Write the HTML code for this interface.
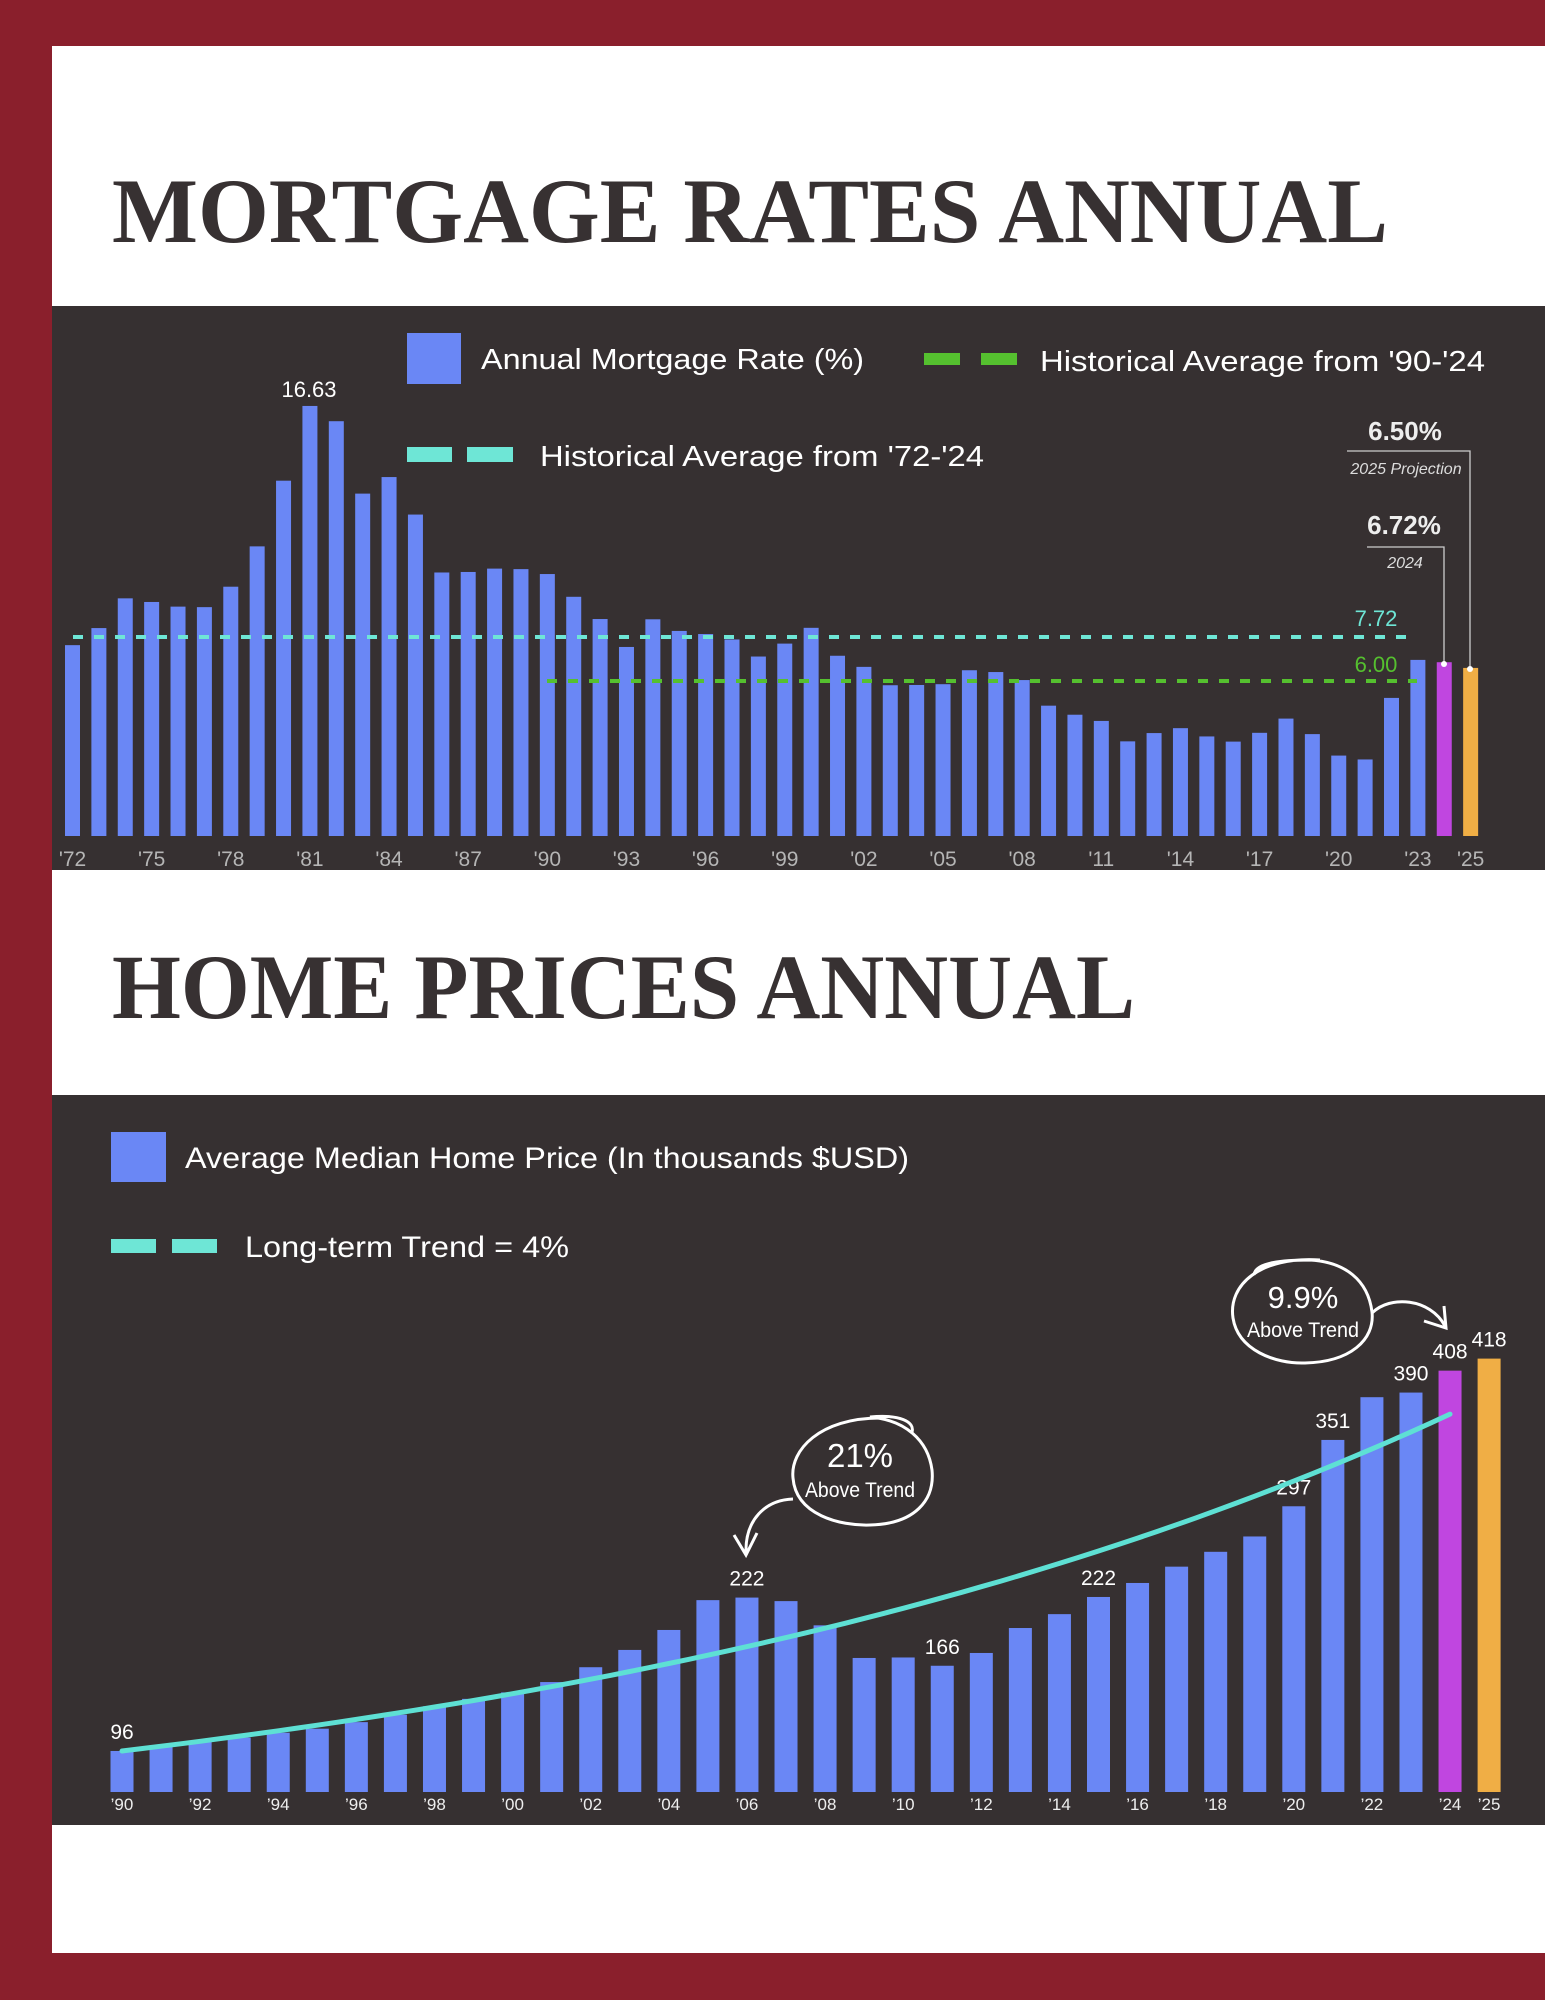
<!DOCTYPE html>
<html><head><meta charset="utf-8">
<style>
html,body{margin:0;padding:0;background:#8a1f2c;}
svg{display:block}
.leg{font-family:"Liberation Sans",sans-serif;fill:#fff;}
.cond{font-family:"Liberation Sans",sans-serif;}
</style></head>
<body>
<svg id="s" width="1545" height="2000" viewBox="0 0 1545 2000" xmlns="http://www.w3.org/2000/svg">
<rect x="0" y="0" width="1545" height="2000" fill="#8a1f2c"/>
<rect x="52" y="46" width="1493" height="1907" fill="#ffffff"/>
<text x="112" y="242" font-family="Liberation Serif,serif" font-weight="bold" font-size="92" fill="#373132" textLength="1276" lengthAdjust="spacingAndGlyphs">MORTGAGE RATES ANNUAL</text>
<text x="112" y="1018" font-family="Liberation Serif,serif" font-weight="bold" font-size="92" fill="#373132" textLength="1023" lengthAdjust="spacingAndGlyphs">HOME PRICES ANNUAL</text>
<rect x="52" y="306" width="1493" height="564" fill="#363031"/>
<rect x="52" y="1095" width="1493" height="730" fill="#363031"/>
<g id="c1"></g>
<g id="c2"></g>
<rect x="407" y="333" width="54" height="51" fill="#6a87f5"/>
<text class="leg" x="481" y="369" font-size="29" textLength="383" lengthAdjust="spacingAndGlyphs">Annual Mortgage Rate (%)</text>
<rect x="924" y="353" width="36" height="12" fill="#55c02f"/>
<rect x="981" y="353" width="36" height="12" fill="#55c02f"/>
<text class="leg" x="1040" y="371" font-size="29" textLength="445" lengthAdjust="spacingAndGlyphs">Historical Average from '90-'24</text>
<rect x="407" y="447" width="45" height="15" fill="#6ee6d6"/>
<rect x="467" y="447" width="46" height="15" fill="#6ee6d6"/>
<text class="leg" x="540" y="466" font-size="29" textLength="444" lengthAdjust="spacingAndGlyphs">Historical Average from '72-'24</text>
<line x1="73" y1="637" x2="1411" y2="637" stroke="#6ee6d6" stroke-width="4" stroke-dasharray="10,11"/>
<line x1="547" y1="681" x2="1417" y2="681" stroke="#55c02f" stroke-width="4" stroke-dasharray="10,11"/>
<text class="cond" x="1376" y="626" font-size="22" fill="#6ee6d6" text-anchor="middle">7.72</text>
<text class="cond" x="1376" y="672" font-size="22" fill="#55c02f" text-anchor="middle">6.00</text>
<text class="cond" x="309" y="397" font-size="22" fill="#fff" text-anchor="middle">16.63</text>
<text x="1405" y="440" font-family="Liberation Sans,sans-serif" font-weight="bold" font-size="26" fill="#eee" text-anchor="middle">6.50%</text>
<polyline points="1347,451 1470,451 1470,669" fill="none" stroke="#ccc" stroke-width="1.3"/>
<text class="cond" x="1406" y="474" font-size="16" font-style="italic" fill="#ddd" text-anchor="middle">2025 Projection</text>
<text x="1404" y="534" font-family="Liberation Sans,sans-serif" font-weight="bold" font-size="26" fill="#eee" text-anchor="middle">6.72%</text>
<polyline points="1367,547 1444,547 1444,663" fill="none" stroke="#ccc" stroke-width="1.3"/>
<text class="cond" x="1405" y="568" font-size="16" font-style="italic" fill="#ddd" text-anchor="middle">2024</text>
<circle cx="1444" cy="664" r="3" fill="#fff"/>
<circle cx="1470" cy="669" r="3" fill="#fff"/>
<rect x="111" y="1132" width="55" height="50" fill="#6a87f5"/>
<text class="leg" x="185" y="1168" font-size="30" textLength="724" lengthAdjust="spacingAndGlyphs">Average Median Home Price (In thousands $USD)</text>
<rect x="111" y="1239" width="45" height="14" fill="#6ee6d6"/>
<rect x="172" y="1239" width="45" height="14" fill="#6ee6d6"/>
<text class="leg" x="245" y="1257" font-size="30" textLength="324" lengthAdjust="spacingAndGlyphs">Long-term Trend = 4%</text>
<path d="M 880,1418 C 820,1418 790,1450 793,1478 C 796,1515 840,1526 870,1525 C 915,1524 935,1500 932,1470 C 928,1440 905,1420 870,1417 C 900,1414 915,1422 912,1432" fill="none" stroke="#fff" stroke-width="3"/>
<text class="cond" x="860" y="1467" font-size="33" fill="#fff" text-anchor="middle">21%</text>
<text class="cond" x="860" y="1497" font-size="21" fill="#fff" text-anchor="middle" textLength="110" lengthAdjust="spacingAndGlyphs">Above Trend</text>
<path d="M 793,1499 C 765,1500 745,1520 746,1553" fill="none" stroke="#fff" stroke-width="3"/>
<path d="M 734,1535 L 746,1555 L 757,1533" fill="none" stroke="#fff" stroke-width="3"/>
<path d="M 1320,1260 C 1260,1256 1228,1285 1233,1318 C 1238,1350 1275,1364 1305,1363 C 1350,1362 1375,1340 1372,1312 C 1368,1280 1345,1262 1310,1260 C 1285,1260 1255,1262 1254,1275" fill="none" stroke="#fff" stroke-width="3"/>
<text class="cond" x="1303" y="1308" font-size="31" fill="#fff" text-anchor="middle">9.9%</text>
<text class="cond" x="1303" y="1337" font-size="21" fill="#fff" text-anchor="middle" textLength="112" lengthAdjust="spacingAndGlyphs">Above Trend</text>
<path d="M 1372,1313 C 1390,1295 1430,1298 1445,1326" fill="none" stroke="#fff" stroke-width="3"/>
<path d="M 1424,1321 L 1446,1328 L 1444,1306" fill="none" stroke="#fff" stroke-width="3"/>
</svg>
<script>
(function(){
var NS="http://www.w3.org/2000/svg";
function el(p,t,a,txt){var e=document.createElementNS(NS,t);for(var k in a)e.setAttribute(k,a[k]);if(txt!=null)e.textContent=txt;p.appendChild(e);return e;}
var c1=document.getElementById('c1');
var r=[7.38,8.04,9.19,9.05,8.87,8.85,9.64,11.20,13.74,16.63,16.04,13.24,13.88,12.43,10.19,10.21,10.34,10.32,10.13,9.25,8.39,7.31,8.38,7.93,7.81,7.60,6.94,7.44,8.05,6.97,6.54,5.83,5.84,5.87,6.41,6.34,6.03,5.04,4.69,4.45,3.66,3.98,4.17,3.85,3.65,3.99,4.54,3.94,3.11,2.96,5.34,6.81,6.72,6.50];
for(var i=0;i<r.length;i++){
 var cx=72.5+i*26.38,h=r[i]*25.86;
 var col=i==52?'#c046e0':(i==53?'#f0ae45':'#6a87f5');
 el(c1,'rect',{x:cx-7.5,y:836-h,width:15,height:h,fill:col});
 var yr=1972+i;
 if((yr-1972)%3==0&&yr<=2023||yr==2025){
  el(c1,'text',{x:cx,y:866,'font-size':21,fill:'#b5b5b5','text-anchor':'middle','class':'cond'},"'"+String(yr).slice(2));
 }
}
var c2=document.getElementById('c2');
var v=[96,100.6,103.6,107,111,114.3,119.7,125.8,132.7,138.8,144.1,152.6,164.8,179,195.4,219.9,222,219.1,199.2,172.4,172.8,166,176.5,197,208.4,222.5,234,247.4,259.6,272.2,297,351.5,386.6,390.4,408.4,418.3];
var lab={0:'96',16:'222',21:'166',25:'222',30:'297',31:'351',33:'390',34:'408',35:'418'};
for(var i=0;i<v.length;i++){
 var cx=122+i*39.06,h=1.2174*(v[i]-62.3);
 var col=i==34?'#c046e0':(i==35?'#f0ae45':'#6a87f5');
 el(c2,'rect',{x:cx-11.5,y:1792-h,width:23,height:h,fill:col});
 var yr=1990+i;
 if(yr%2==0||yr==2025) el(c2,'text',{x:cx,y:1810,'font-size':17,fill:'#eee','text-anchor':'middle','font-family':'Liberation Sans,sans-serif'},"\u2019"+String(yr).slice(2));
 if(lab[i]) el(c2,'text',{x:cx,y:1792-h-12,'font-size':21,fill:'#fff','text-anchor':'middle','class':'cond'},lab[i]);
}
var d='';
for(var t=0;t<=34;t+=0.5){var x=122+t*39.06,val=96*Math.pow(1.0407,t),y=1792-1.2174*(val-62.3);
 d+=(t==0?'M':'L')+x.toFixed(1)+','+y.toFixed(1)+' ';}
el(c2,'path',{d:d,fill:'none',stroke:'#5ee0d4','stroke-width':5,'stroke-linecap':'round'});
})();
</script>
</body></html>
